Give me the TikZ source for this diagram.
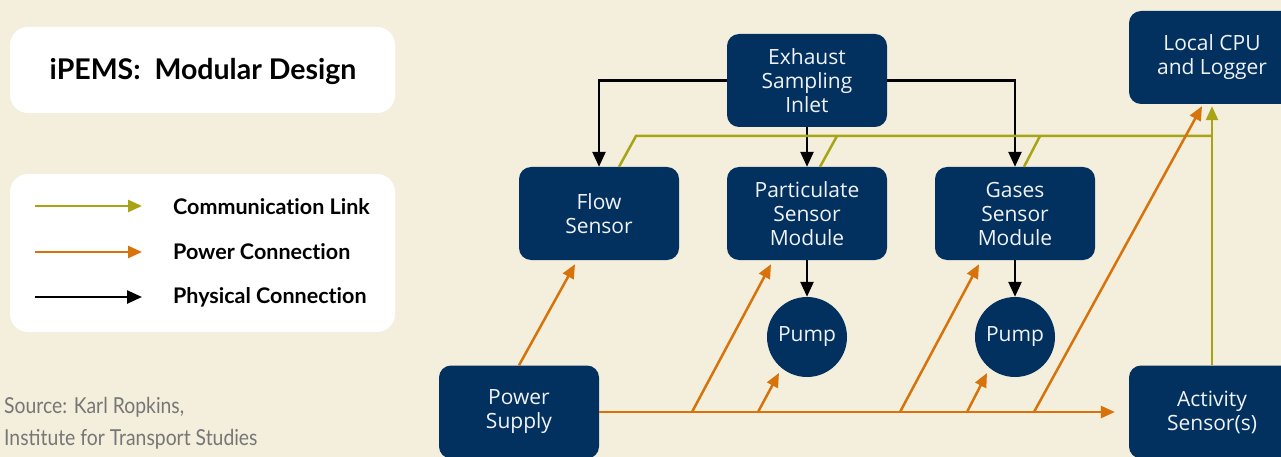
\documentclass[tikz,border=0pt]{standalone}
\usepackage{fontspec}
\setmainfont{Open Sans}
\newfontfamily\latofont[Ligatures=NoCommon]{Lato}
\newfontfamily\srcfont[FakeStretch=0.88]{Lato}
\usetikzlibrary{arrows.meta,calc}
\definecolor{bgc}{HTML}{F4EFDC}
\definecolor{navy}{HTML}{02305F}
\definecolor{pwr}{HTML}{D8720A}
\definecolor{com}{HTML}{A8A414}
\definecolor{srcgray}{HTML}{767676}
\tikzset{
  box/.style={draw=none,fill=navy,rounded corners=12pt,minimum width=160pt,minimum height=93pt,
    text=white!94!navy,align=center,font=\fontsize{21}{24}\selectfont,inner sep=0pt},
  pumpnode/.style={circle,fill=navy,minimum size=80pt,inner sep=0pt,text=white!94!navy,
    font=\fontsize{21}{24}\selectfont},
  panel/.style={fill=white,rounded corners=18pt},
  phys/.style={draw=black,line width=2.5pt,-{Triangle[length=15pt,width=13pt]}},
  pwrline/.style={draw=pwr,line width=2.5pt},
  pwrarrow/.style={pwrline,-{Triangle[length=14pt,width=12pt]}},
  comline/.style={draw=com,line width=2.5pt},
  comarrow/.style={comline,-{Triangle[length=14pt,width=12pt]}},
  legtext/.style={anchor=west,font=\latofont\bfseries\fontsize{21.5}{24}\selectfont,inner sep=0pt},
}
\begin{document}
\begin{tikzpicture}[x=1pt,y=-1pt]
\useasboundingbox (0,0) rectangle (1281,457);
\clip (0,0) rectangle (1281,457);
\fill[bgc] (0,0) rectangle (1281,457);

% left panels
\fill[panel] (10,27) rectangle (395,113);
\node[font=\latofont\bfseries\fontsize{28.5}{32}\selectfont,inner sep=0pt] (title) at (203,71) {iPEMS:\ \ Modular Design};
\fill[panel] (10,174) rectangle (395,332);
\coordinate (l1a) at (35,206); \coordinate (l1b) at (142,206);
\coordinate (l2a) at (35,252); \coordinate (l2b) at (142,252);
\coordinate (l3a) at (35,297); \coordinate (l3b) at (142,297);
\draw[comarrow] (l1a) -- (l1b);
\draw[pwrarrow] (l2a) -- (l2b);
\draw[phys] (l3a) -- (l3b);
\node[legtext] (lt1) at (173,207) {Communication Link};
\node[legtext] (lt2) at (173,252) {Power Connection};
\node[legtext] (lt3) at (173,297) {Physical Connection};

\node[anchor=base west,inner sep=0pt,text=srcgray,font=\srcfont\fontsize{22}{32}\selectfont] (src1) at (4,413) {Source: Karl Ropkins,};
\node[anchor=base west,inner sep=0pt,text=srcgray,font=\srcfont\fontsize{22}{32}\selectfont] (src2) at (4,445) {Institute for Transport Studies};

% main nodes
\node[box] (exh) at (807,80.5) {Exhaust\\Sampling\\Inlet};
\node[box] (flow) at (599,213.5) {Flow\\Sensor};
\node[box] (part) at (807,213.5) {Particulate\\Sensor\\Module};
\node[box] (gas) at (1015,213.5) {Gases\\Sensor\\Module};
\node[box,minimum width=166pt] (cpu) at (1212,57.5) {Local CPU\\and Logger};
\node[box,minimum width=166pt] (act) at (1212,412) {Activity\\Sensor(s)};
\node[box] (pwrs) at (519,412) {Power\\Supply};
\node[pumpnode] (pump1) at (807,337) {Pump};
\node[pumpnode] (pump2) at (1015,337) {Pump};

% physical connections
\draw[phys] (exh.west) -| (flow.north);
\draw[phys] (exh.south) -- (part.north);
\draw[phys] (exh.east) -| (gas.north);
\draw[phys] (part.south) -- (pump1.north);
\draw[phys] (gas.south) -- (pump2.north);

% communication links
\coordinate (g1) at (636,136);
\coordinate (g2) at (837,136);
\coordinate (g3) at (1040,136);
\coordinate (gj) at (1212,136);
\draw[comline] ([xshift=20pt]flow.north) -- (g1) -- (gj);
\draw[comline] ([xshift=13pt]part.north) -- (g2);
\draw[comline] ([xshift=9pt]gas.north) -- (g3);
\draw[comarrow] (act.north) -- ([yshift=-2pt]cpu.south);

% power connections
\coordinate (b1) at (692,412);
\coordinate (b2) at (758,412);
\coordinate (b3) at (900,412);
\coordinate (b4) at (967,412);
\coordinate (b5) at (1034,412);
\draw[pwrarrow,shorten >=14pt] (pwrs.east) -- (act.west);
\draw[pwrarrow] (pwrs.north) -- ([xshift=-24pt,yshift=-4pt]flow.south);
\draw[pwrarrow] (b1) -- ([xshift=-36pt,yshift=-4pt]part.south);
\draw[pwrarrow] (b2) -- ($(pump1.center)+(-28,36)$);
\draw[pwrarrow] (b3) -- ([xshift=-36pt,yshift=-4pt]gas.south);
\draw[pwrarrow] (b4) -- ($(pump2.center)+(-28,36)$);
\draw[pwrarrow] (b5) -- ([xshift=-10pt,yshift=-2pt]cpu.south);
\end{tikzpicture}
\end{document}
